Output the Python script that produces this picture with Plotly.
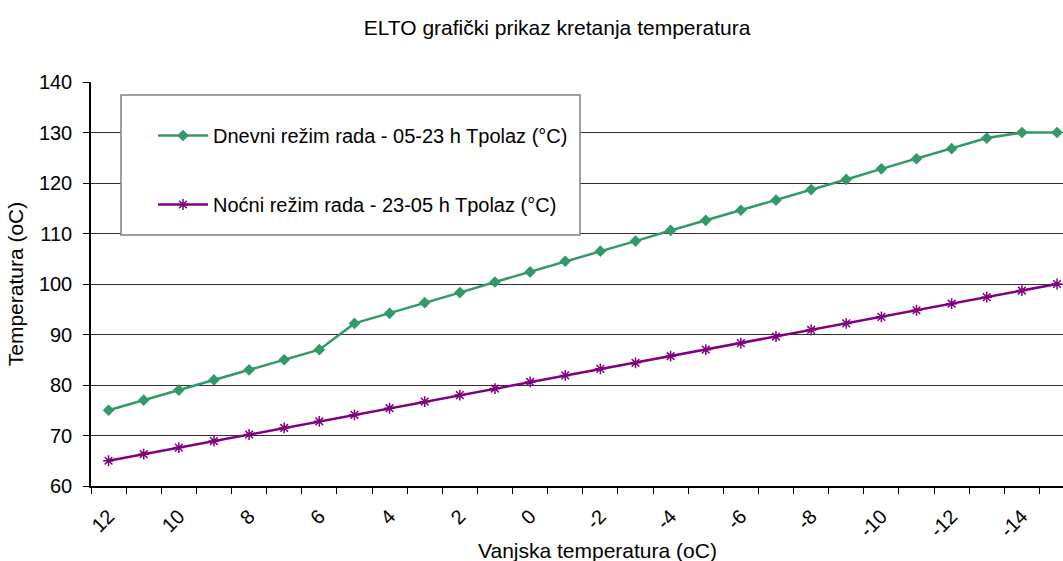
import plotly.graph_objects as go

outside_temp = [12, 11, 10, 9, 8, 7, 6, 5, 4, 3, 2, 1, 0, -1, -2, -3, -4, -5, -6, -7,
                -8, -9, -10, -11, -12, -13, -14, -15]
day_mode = [75, 77, 79, 81, 83, 85, 87, 92.2, 94.2, 96.3, 98.3, 100.4, 102.4, 104.5,
            106.5, 108.5, 110.6, 112.6, 114.6, 116.6, 118.7, 120.7, 122.8, 124.8,
            126.8, 128.9, 130, 130]
night_mode = [65, 66.3, 67.6, 68.9, 70.2, 71.5, 72.8, 74.1, 75.4, 76.7, 78.0, 79.3,
              80.6, 81.9, 83.2, 84.4, 85.7, 87.0, 88.3, 89.6, 90.9, 92.2, 93.5, 94.8,
              96.1, 97.4, 98.7, 100]
day_name = "Dnevni režim rada - 05-23 h Tpolaz (°C)"
night_name = "Noćni režim rada - 23-05 h Tpolaz (°C)"

idx = list(range(len(outside_temp)))
label_idx = [i for i in idx if i % 2 == 0]
label_txt = [str(outside_temp[i]) for i in label_idx]

W, H = 1063, 561
L, R, T, B = 91, 0, 82, 75
pw, ph = W - L - R, H - T - B

def px(x):
    return (x - L) / pw

def py(y):
    return (H - B - y) / ph

fig = go.Figure()
fig.add_trace(go.Scatter(
    x=idx, y=day_mode, name=day_name, mode="lines+markers",
    line=dict(color="#339966", width=2.5),
    marker=dict(symbol="diamond", size=9, color="#339966"),
    legendgroup="a"))
fig.add_trace(go.Scatter(
    x=idx, y=night_mode, name=night_name, mode="lines+markers",
    line=dict(color="#800080", width=2.5),
    marker=dict(symbol="asterisk-open", size=9, color="#800080",
                line=dict(color="#800080", width=1.5)),
    legendgroup="b"))

fig.add_shape(type="rect", xref="paper", yref="paper",
              x0=px(121), x1=px(580), y0=py(235), y1=py(95),
              line=dict(color="#808080", width=1.5), fillcolor="white", layer="above")

fig.update_layout(
    width=W, height=H,
    margin=dict(l=L, r=R, t=T, b=B),
    paper_bgcolor="white", plot_bgcolor="white",
    font=dict(family="Liberation Sans, Arial, sans-serif", size=20, color="black"),
    title=dict(text="ELTO grafički prikaz kretanja temperatura", x=557 / W, xanchor="center",
               y=1 - 28 / H, yanchor="middle", font=dict(size=21)),
    showlegend=True,
    legend=dict(x=px(153), y=py(116), xanchor="left", yanchor="top",
                bgcolor="rgba(0,0,0,0)", borderwidth=0, tracegroupgap=40,
                font=dict(size=20), itemwidth=50),
    xaxis=dict(range=[-0.5, 27.17], tickmode="array", tickvals=label_idx, ticktext=label_txt,
               tickangle=-45, ticks="", showgrid=False, zeroline=False,
               showline=True, linecolor="black", linewidth=1.5,
               tickfont=dict(size=20), ticklabelstandoff=9,
               minor=dict(ticks="outside", tick0=-0.5, dtick=1, ticklen=6,
                          tickcolor="black", showgrid=False)),
    yaxis=dict(range=[60, 140], dtick=10, ticks="outside", ticklen=6, tickcolor="black",
               showgrid=True, gridcolor="#303030", gridwidth=1, zeroline=False,
               showline=True, linecolor="black", linewidth=1.5,
               tickfont=dict(size=20), ticklabelstandoff=7,
               title=dict(text="Temperatura (oC)", font=dict(size=21), standoff=10)),
)
fig.add_annotation(text="Vanjska temperatura (oC)", xref="paper", yref="paper",
                   x=px(597), y=py(550), xanchor="center", yanchor="middle",
                   showarrow=False, font=dict(size=21))

fig.write_html("out.html", config={"displayModeBar": False},
               post_script="document.body.style.margin='0';document.body.style.overflow='hidden';")
